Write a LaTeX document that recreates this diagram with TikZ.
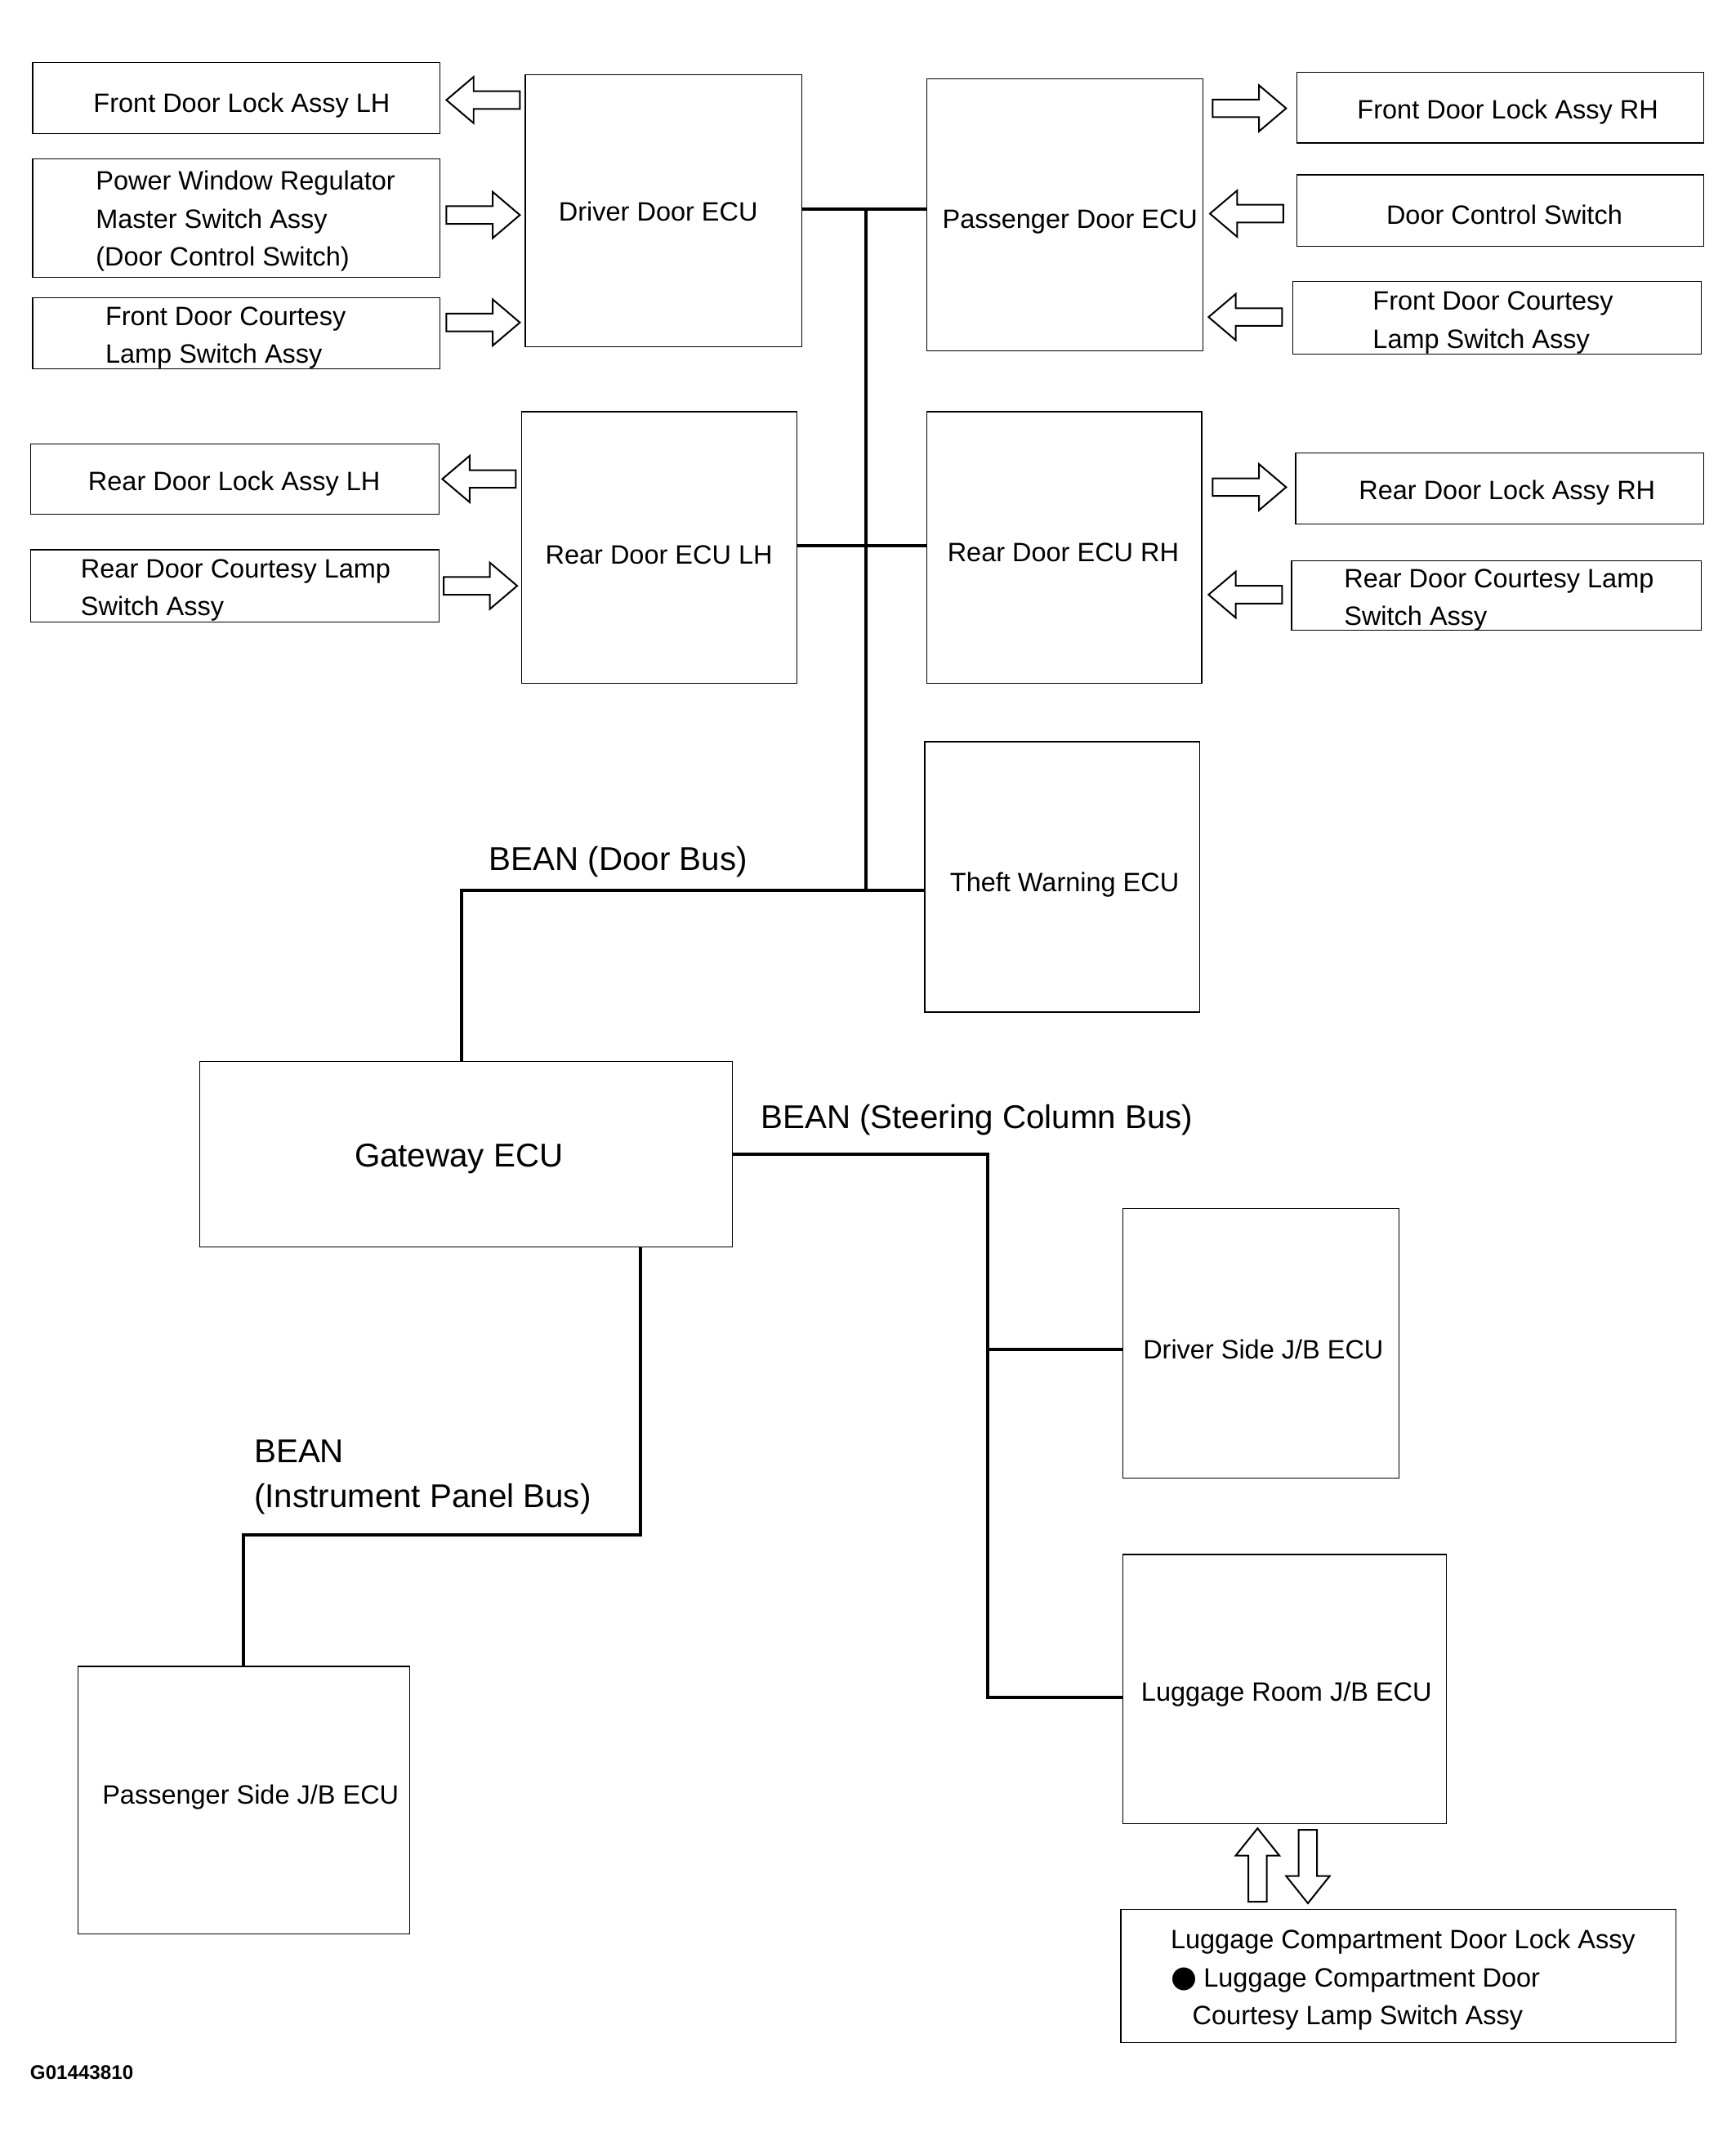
\documentclass[tikz,border=0pt]{standalone}
\usepackage{fontspec}
\setmainfont{Liberation Sans}
\newfontfamily\dejavu{DejaVu Sans}
\usetikzlibrary{fit}
\newcommand\blkR[2]{\draw[blk] (#1,#2) -- ++(-20,-17) -- ++(0,10.5) -- ++(-34,0) -- ++(0,13) -- ++(34,0) -- ++(0,10.5) -- cycle;}
\newcommand\blkL[2]{\draw[blk] (#1,#2) -- ++(20,-17) -- ++(0,10.5) -- ++(34,0) -- ++(0,13) -- ++(-34,0) -- ++(0,10.5) -- cycle;}
\newcommand\blkU[2]{\draw[blk] (#1,#2) -- ++(16,20) -- ++(-9.25,0) -- ++(0,34) -- ++(-13.5,0) -- ++(0,-34) -- ++(-9.25,0) -- cycle;}
\newcommand\blkD[2]{\draw[blk] (#1,#2) -- ++(16,-20) -- ++(-9.25,0) -- ++(0,-34) -- ++(-13.5,0) -- ++(0,34) -- ++(-9.25,0) -- cycle;}
\begin{document}
\begin{tikzpicture}[x=1pt,y=-1pt,
  box/.style={draw=black,line width=0.7pt,inner sep=0pt},
  txt/.style={font=\fontsize{19.5}{28}\selectfont,inner sep=0pt,text height=14pt,text depth=0pt},
  mtxt/.style={font=\fontsize{19.5}{28}\selectfont,inner sep=0pt,align=left,anchor=base west},
  big/.style={font=\fontsize{24.2}{33}\selectfont,inner sep=0pt,text height=17.3pt,text depth=0pt},
  mbig/.style={font=\fontsize{24.2}{33}\selectfont,inner sep=0pt,align=left,anchor=base west},
  bus/.style={line width=2.4pt},
  blk/.style={draw=black,line width=1.2pt,fill=white,line join=miter}]
\useasboundingbox[fill=white] (0,0) rectangle (1275,1573.3);

% boxes (measured at full scale)
\node[box,fit={(24,46) (323,98)}] (fdlLH) {};
\node[box,fit={(24,117) (323,204)}] (pwr) {};
\node[box,fit={(24,219) (323,271)}] (fdcLH) {};
\node[box,fit={(386,55) (589,255)}] (drv) {};
\node[box,fit={(681,58) (884,257.6)}] (pass) {};
\node[box,fit={(953,53) (1252,105)}] (fdlRH) {};
\node[box,fit={(953,128.5) (1252,181)}] (dcs) {};
\node[box,fit={(950,207) (1250,260)}] (fdcRH) {};
\node[box,fit={(22.4,326) (322.5,378)}] (rdlLH) {};
\node[box,fit={(22.4,404) (322.5,457)}] (rdcLH) {};
\node[box,fit={(383.5,302.5) (585.6,502)}] (rlh) {};
\node[box,fit={(681,302.5) (883,502)}] (rrh) {};
\node[box,fit={(952,333) (1251.6,385)}] (rdlRH) {};
\node[box,fit={(949,412) (1250,463)}] (rdcRH) {};
\node[box,fit={(823.6,1403) (1231.5,1500.7)}] (lcd) {};

\begin{scope}[scale=1.0035]
\node[box,fit={(677,543) (878,741)}] (theft) {};
\node[box,fit={(146,777) (536,913)}] (gw) {};
\node[box,fit={(822,885) (1024,1082)}] (djb) {};
\node[box,fit={(822,1138) (1059,1335)}] (lug) {};
\node[box,fit={(57,1220) (300,1416)}] (psjb) {};

% texts
\node[txt] (t1) at (177,75) {Front Door Lock Assy LH};
\node[mtxt] (t2) at (70,195) {Power Window Regulator\\Master Switch Assy\\(Door Control Switch)};
\node[mtxt] (t3) at (77,266) {Front Door Courtesy\\Lamp Switch Assy};
\node[txt] (t4) at (482,155) {Driver Door ECU};
\node[txt] (t5) at (783.5,160) {Passenger Door ECU};
\node[txt] (t6) at (1104,80) {Front Door Lock Assy RH};
\node[txt] (t7) at (1101.5,157) {Door Control Switch};
\node[mtxt] (t8) at (1005,255) {Front Door Courtesy\\Lamp Switch Assy};
\node[txt] (t9) at (171.5,352) {Rear Door Lock Assy LH};
\node[mtxt] (t10) at (59,451) {Rear Door Courtesy Lamp\\Switch Assy};
\node[txt] (t11) at (482.5,406) {Rear Door ECU LH};
\node[txt] (t12) at (778.5,404) {Rear Door ECU RH};
\node[txt] (t13) at (1103.5,359) {Rear Door Lock Assy RH};
\node[mtxt] (t14) at (984,458) {Rear Door Courtesy Lamp\\Switch Assy};
\node[txt] (t15) at (779.5,646) {Theft Warning ECU};
\node[big] (t16) at (336,846) {Gateway ECU};
\node[big,anchor=west] (t17) at (358,629) {BEAN (Door Bus)};
\node[big,anchor=west] (t18) at (557,818) {BEAN (Steering Column Bus)};
\node[mbig] (t19) at (186,1103.7) {BEAN\\(Instrument Panel Bus)};
\node[txt] (t20) at (925,988) {Driver Side J/B ECU};
\node[txt] (t21) at (942,1239) {Luggage Room J/B ECU};
\node[txt] (t22) at (183.5,1314) {Passenger Side J/B ECU};

% bus coordinates
\coordinate (busA) at (634,153);
\coordinate (busB) at (634,399.6);
\coordinate (busC) at (634,652);
\coordinate (busD) at (338,652);
\coordinate (stT) at (723,845);
\coordinate (stM) at (723,988);
\coordinate (stB) at (723,1243);
\coordinate (ipT) at (469,913);
\coordinate (ipA) at (469,1124);
\coordinate (ipB) at (178,1124);
\end{scope}

\node[txt,anchor=west] (t23) at (860,1425) {Luggage Compartment Door Lock Assy};
\node[txt,anchor=west] (t24) at (860,1453) {{\dejavu\fontsize{22}{28}\selectfont ●}\hspace{5pt}Luggage Compartment Door};
\node[txt,anchor=west] (t25) at (876,1481) {Courtesy Lamp Switch Assy};
\node[font=\fontsize{14.5}{17}\bfseries,inner sep=0pt,anchor=base west] (code) at (22,1528) {G01443810};

% bus lines
\draw[bus] (drv.east |- busA) -- (pass.west |- busA);
\draw[bus] (rlh.east |- busB) -- (rrh.west |- busB);
\draw[bus] (busA) -- (busC);
\draw[bus] (theft.west |- busC) -- (busD) -- (busD |- gw.north);
\draw[bus] (gw.east |- stT) -- (stT) -- (stB) -- (stB -| lug.west);
\draw[bus] (stM) -- (stM -| djb.west);
\draw[bus] (gw.south -| ipT) -- (ipA) -- (ipB) -- (ipB |- psjb.north);

% block arrows
\blkL{328}{73.5}
\blkR{382}{158}
\blkR{382}{237}
\blkL{325}{352}
\blkR{380}{430.5}
\blkR{945}{79.6}
\blkL{889}{157}
\blkL{888}{233}
\blkR{945}{358}
\blkL{888}{437}
\blkU{924}{1343.5}
\blkD{961}{1398.6}
\end{tikzpicture}
\end{document}
